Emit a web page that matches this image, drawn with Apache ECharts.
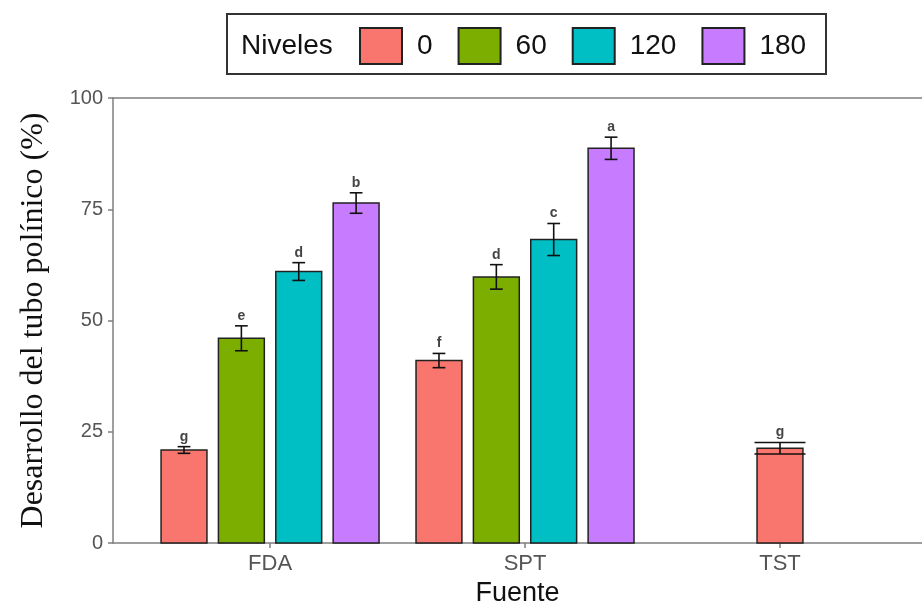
<!DOCTYPE html>
<html>
<head>
<meta charset="utf-8">
<script src="https://cdn.jsdelivr.net/npm/echarts@6/dist/echarts.min.js"></script>
<style>
  html, body { margin: 0; padding: 0; background: #fff; }
  #chart { width: 922px; height: 605px; }
</style>
</head>
<body>
<div id="chart"></div>
<script>
// fuentes (eje x) y niveles (grupos de barras)
const categories = ['FDA', 'SPT', 'TST'];
const levels = ['0', '60', '120', '180'];
const colors = ['#F8766D', '#7CAE00', '#00BFC4', '#C77CFF'];

// media por nivel, en el orden de categories (null = sin dato)
const mean0 = [20.9, 41.0, 21.3];
const mean60 = [46.0, 59.8, null];
const mean120 = [61.0, 68.2, null];
const mean180 = [76.4, 88.7, null];

// error estandar
const se0 = [0.75, 1.6, 1.3];
const se60 = [2.8, 2.75, null];
const se120 = [2.0, 3.6, null];
const se180 = [2.3, 2.5, null];

// letras de significancia
const let0 = ['g', 'f', 'g'];
const let60 = ['e', 'd', null];
const let120 = ['d', 'c', null];
const let180 = ['b', 'a', null];

const yTicks = [0, 25, 50, 75, 100];

const means = [mean0, mean60, mean120, mean180];
const ses = [se0, se60, se120, se180];
const letters = [let0, let60, let120, let180];

const dodge = 0.9;
const barWidth = 0.8;
const capWidth = 0.2;

// posicion dodge como en ggplot: solo cuenta los niveles presentes
function buildData(li) {
  const out = [];
  categories.forEach((c, ci) => {
    if (means[li][ci] == null) return;
    const present = [];
    levels.forEach((l, k) => { if (means[k][ci] != null) present.push(k); });
    const n = present.length;
    const pos = present.indexOf(li);
    const step = dodge / 4;
    const x = ci + 1 + (pos - (n - 1) / 2) * step;
    out.push({
      value: [x, means[li][ci], ses[li][ci], step * barWidth, capWidth / n],
      letter: letters[li][ci]
    });
  });
  return out;
}

const chart = echarts.init(document.getElementById('chart'));

const series = levels.map((lvl, li) => {
  const data = buildData(li);
  return {
    name: lvl,
    type: 'custom',
    xAxisIndex: 0,
    itemStyle: { color: colors[li], borderColor: '#222', borderWidth: 1.5 },
    data: data,
    renderItem: function(params, api) {
      const x = api.value(0);
      const y = api.value(1);
      const e = api.value(2);
      const w = api.value(3);
      const cw = api.value(4);
      const p0 = api.coord([x - w / 2, y]);
      const p1 = api.coord([x + w / 2, 0]);
      const top = api.coord([x, y + e]);
      const bot = api.coord([x, y - e]);
      const c0 = api.coord([x - cw / 2, 0])[0];
      const c1 = api.coord([x + cw / 2, 0])[0];
      const lineStyle = { stroke: '#111', lineWidth: 1.6 };
      return {
        type: 'group',
        children: [
          {
            type: 'rect',
            shape: { x: p0[0], y: p0[1], width: p1[0] - p0[0], height: p1[1] - p0[1] },
            style: { fill: api.visual('color'), stroke: '#222', lineWidth: 1.5 }
          },
          { type: 'line', shape: { x1: top[0], y1: top[1], x2: bot[0], y2: bot[1] }, style: lineStyle },
          { type: 'line', shape: { x1: c0, y1: top[1], x2: c1, y2: top[1] }, style: lineStyle },
          { type: 'line', shape: { x1: c0, y1: bot[1], x2: c1, y2: bot[1] }, style: lineStyle },
          {
            type: 'text',
            x: top[0],
            y: top[1] - 3,
            style: {
              text: data[params.dataIndex].letter,
              align: 'center',
              verticalAlign: 'bottom',
              fontSize: 14,
              fontWeight: 'bold',
              fontFamily: 'Liberation Sans',
              fill: '#444'
            }
          }
        ]
      };
    }
  };
});

const option = {
  backgroundColor: '#fff',
  animation: false,
  grid: { left: 113, right: 0, top: 98, bottom: 62, outerBoundsMode: 'none', containLabel: false },
  legend: {
    data: levels,
    left: 354,
    top: 22,
    icon: 'rect',
    itemWidth: 42,
    itemHeight: 36,
    itemGap: 25,
    textStyle: { fontSize: 28, fontFamily: 'Liberation Sans', color: '#111', padding: [0, 0, 0, 10] }
  },
  graphic: [
    {
      type: 'rect',
      shape: { x: 227, y: 14, width: 599, height: 60 },
      style: { fill: 'none', stroke: '#333', lineWidth: 2 }
    },
    {
      type: 'text',
      x: 241,
      y: 46,
      style: {
        text: 'Niveles',
        fontSize: 28,
        fontFamily: 'Liberation Sans',
        fill: '#111',
        verticalAlign: 'middle'
      }
    }
  ],
  xAxis: [
    {
      type: 'value',
      min: 0.384,
      max: 3.557,
      name: 'Fuente',
      nameLocation: 'middle',
      nameGap: 36,
      nameTextStyle: { fontSize: 27, fontFamily: 'Liberation Sans', color: '#111' },
      axisLine: { show: true, lineStyle: { color: '#7f7f7f', width: 1.5 } },
      axisTick: { show: true, length: 5, customValues: [1, 2, 3], lineStyle: { color: '#7f7f7f', width: 1.5 } },
      axisLabel: {
        customValues: [1, 2, 3],
        formatter: v => categories[Math.round(v) - 1] || '',
        margin: 10,
        fontSize: 22,
        fontFamily: 'Liberation Sans',
        color: '#555'
      },
      splitLine: { show: false }
    },
    {
      type: 'value',
      position: 'top',
      min: 0.384,
      max: 3.557,
      axisLine: { show: true, onZero: false, lineStyle: { color: '#7f7f7f', width: 1.5 } },
      axisTick: { show: false },
      axisLabel: { show: false },
      splitLine: { show: false }
    }
  ],
  yAxis: {
    type: 'value',
    min: 0,
    max: 100,
    interval: 25,
    name: 'Desarrollo del tubo polínico (%)',
    nameLocation: 'middle',
    nameGap: 63,
    nameTextStyle: { fontSize: 32, fontFamily: 'Liberation Serif', color: '#111' },
    axisLine: { show: true, lineStyle: { color: '#7f7f7f', width: 1.5 } },
    axisTick: { show: true, length: 5, lineStyle: { color: '#7f7f7f', width: 1.5 } },
    axisLabel: {
      margin: 10,
      fontSize: 20,
      fontFamily: 'Liberation Sans',
      color: '#555',
      formatter: v => (yTicks.indexOf(v) >= 0 ? String(v) : '')
    },
    splitLine: { show: false }
  },
  series: series
};

chart.setOption(option);
</script>
</body>
</html>
